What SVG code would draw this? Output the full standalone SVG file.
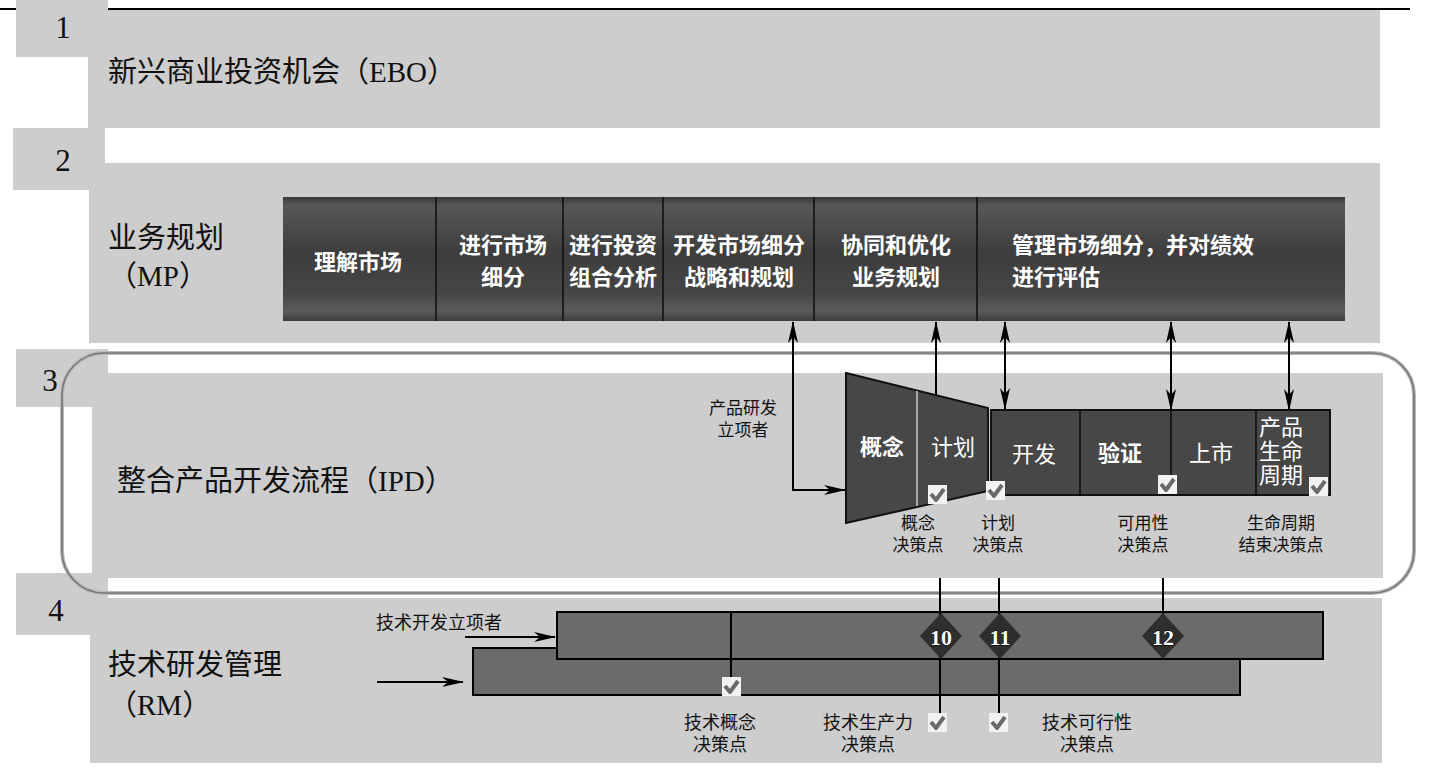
<svg xmlns="http://www.w3.org/2000/svg" width="1429" height="783" viewBox="0 0 1429 783">
<defs>
<linearGradient id="mpg" x1="0" y1="0" x2="0" y2="1">
<stop offset="0" stop-color="#3a3a3a"/>
<stop offset="0.07" stop-color="#575757"/>
<stop offset="0.45" stop-color="#3d3d3d"/>
<stop offset="0.78" stop-color="#464646"/>
<stop offset="0.92" stop-color="#5b5b5b"/>
<stop offset="1" stop-color="#3c3c3c"/>
</linearGradient>
<marker id="ah" viewBox="0 0 22 10" refX="21" refY="5" markerWidth="22" markerHeight="10" markerUnits="userSpaceOnUse" orient="auto-start-reverse">
<path d="M0,0 L22,5 L0,10 L6,5 z" fill="#000"/>
</marker>
<symbol id="ck" viewBox="0 0 19 19">
<rect width="19" height="19" fill="#f2f2f2"/>
<path d="M3,9 L8,15 L16,4" fill="none" stroke="#6a6a6a" stroke-width="4" stroke-linejoin="round"/>
</symbol>
</defs>
<style>
.band{fill:#cdcdcd}
.num{font-family:"Liberation Serif","Noto Sans CJK SC",serif;font-size:31px;fill:#111;text-anchor:middle}
.title{font-family:"Liberation Serif","Noto Sans CJK SC",serif;font-size:29px;fill:#111}
.mpt{font-family:"Liberation Serif","Noto Sans CJK SC",sans-serif;font-size:22px;font-weight:bold;fill:#fff;text-anchor:middle}
.ipt{font-family:"Noto Sans CJK SC",sans-serif;font-size:22px;fill:#fff;text-anchor:middle}
.lbl{font-family:"Noto Sans CJK SC",sans-serif;font-size:17px;fill:#111;text-anchor:middle}
.st{text-anchor:start}
.rml{font-size:18px}
.dark{fill:#474747;stroke:#111;stroke-width:2}
.rm{fill:#6b6b6b;stroke:#000;stroke-width:2}
.div{stroke:#111;stroke-width:1.6}
.con{fill:none;stroke:#000;stroke-width:2}
.dia{fill:#2e2e2e}
.dnum{font-family:"Liberation Serif",serif;font-weight:bold;font-size:22px;fill:#fff;stroke:#000;stroke-width:0.8;paint-order:stroke;text-anchor:middle}
</style>
<rect width="1429" height="783" fill="#fff"/>
<line x1="0" y1="9" x2="1410" y2="9" stroke="#000" stroke-width="2"/>

<g id="band-ebo">
<rect class="band" x="88" y="10" width="1292" height="118"/>
<rect class="band" x="16" y="0" width="92" height="57"/>
<text class="num" x="63" y="38">1</text>
<text class="title" x="108" y="82">新兴商业投资机会（EBO）</text>
</g>

<g id="band-mp">
<rect class="band" x="89" y="163" width="1291" height="180"/>
<rect class="band" x="13" y="128" width="92" height="62"/>
<text class="num" x="63" y="171">2</text>
<text class="title" x="108" y="248" font-size="30">业务规划</text>
<text class="title" x="108" y="286" font-size="30">（MP）</text>
</g>

<g id="band-ipd">
<rect class="band" x="92" y="373" width="1291" height="205"/>
<rect class="band" x="16" y="349" width="92" height="58"/>
<text class="num" x="50" y="391">3</text>
<text class="title" x="117" y="491">整合产品开发流程（IPD）</text>
</g>

<g id="band-rm">
<rect class="band" x="90" y="598" width="1292" height="165"/>
<rect class="band" x="16" y="573" width="92" height="62"/>
<text class="num" x="56" y="621">4</text>
<text class="title" x="108" y="675" font-size="30">技术研发管理</text>
<text class="title" x="108" y="715" font-size="30">（RM）</text>
</g>

<g id="ipd-frame">
<rect x="62" y="353" width="1352" height="240" rx="42" fill="none" stroke="#b8b8b8" stroke-width="4"/>
<rect x="62" y="353" width="1352" height="240" rx="42" fill="none" stroke="#777" stroke-width="1.6"/>
</g>

<g id="mp-bar">
<rect x="283" y="197" width="1062" height="124" fill="url(#mpg)"/>
<line class="div" x1="436" y1="197" x2="436" y2="321"/>
<line class="div" x1="563" y1="197" x2="563" y2="321"/>
<line class="div" x1="663" y1="197" x2="663" y2="321"/>
<line class="div" x1="814" y1="197" x2="814" y2="321"/>
<line class="div" x1="977" y1="197" x2="977" y2="321"/>
<text class="mpt" x="358" y="270">理解市场</text>
<text class="mpt" x="503" y="253">进行市场</text>
<text class="mpt" x="503" y="285">细分</text>
<text class="mpt" x="613" y="253">进行投资</text>
<text class="mpt" x="613" y="285">组合分析</text>
<text class="mpt" x="739" y="253">开发市场细分</text>
<text class="mpt" x="739" y="285">战略和规划</text>
<text class="mpt" x="896" y="253">协同和优化</text>
<text class="mpt" x="896" y="285">业务规划</text>
<text class="mpt st" x="1012" y="253">管理市场细分，并对绩效</text>
<text class="mpt st" x="1012" y="285">进行评估</text>
</g>

<g id="ipd-phases">
<polygon class="dark" points="846,373 988,408 988,491 846,523"/>
<line x1="917" y1="391" x2="917" y2="506" stroke="#aaa" stroke-width="2"/>
<rect class="dark" x="991" y="410" width="339" height="85" stroke-width="2.5"/>
<line class="div" x1="1080" y1="410" x2="1080" y2="495"/>
<line class="div" x1="1171" y1="410" x2="1171" y2="495"/>
<line class="div" x1="1256" y1="410" x2="1256" y2="495"/>
<text class="ipt" x="882" y="455" font-weight="bold">概念</text>
<text class="ipt" x="953" y="455">计划</text>
<text class="ipt" x="1034" y="462">开发</text>
<text class="ipt" x="1120" y="461" font-weight="bold">验证</text>
<text class="ipt" x="1211" y="461">上市</text>
<text class="ipt st" x="1259" y="435">产品</text>
<text class="ipt st" x="1259" y="459">生命</text>
<text class="ipt st" x="1259" y="483">周期</text>
</g>

<g id="ipd-labels">
<text class="lbl" x="743" y="414">产品研发</text>
<text class="lbl" x="743" y="436">立项者</text>
<text class="lbl" x="918" y="529">概念</text>
<text class="lbl" x="918" y="551">决策点</text>
<text class="lbl" x="998" y="529">计划</text>
<text class="lbl" x="998" y="551">决策点</text>
<text class="lbl" x="1143" y="529">可用性</text>
<text class="lbl" x="1143" y="551">决策点</text>
<text class="lbl" x="1281" y="529">生命周期</text>
<text class="lbl" x="1281" y="551">结束决策点</text>
</g>

<g id="rm-bars">
<rect class="rm" x="473" y="648" width="767" height="47"/>
<rect class="rm" x="557" y="612" width="766" height="47"/>
<text class="lbl rml st" x="376" y="629">技术开发立项者</text>
<text class="lbl rml" x="720" y="729">技术概念</text>
<text class="lbl rml" x="720" y="751">决策点</text>
<text class="lbl rml" x="868" y="729">技术生产力</text>
<text class="lbl rml" x="868" y="751">决策点</text>
<text class="lbl rml" x="1087" y="729">技术可行性</text>
<text class="lbl rml" x="1087" y="751">决策点</text>
</g>

<g id="connectors">
<path class="con" d="M793,322 V490 H845" marker-start="url(#ah)" marker-end="url(#ah)"/>
<path class="con" d="M936,322 V395" marker-start="url(#ah)"/>
<path class="con" d="M1005,322 V409" marker-start="url(#ah)" marker-end="url(#ah)"/>
<path class="con" d="M1171,322 V410" marker-start="url(#ah)" marker-end="url(#ah)"/>
<path class="con" d="M1289,322 V410" marker-start="url(#ah)" marker-end="url(#ah)"/>
<path class="con" d="M465,637 H555" marker-end="url(#ah)"/>
<path class="con" d="M377,682 H463" marker-end="url(#ah)"/>
<path class="con" d="M731,612 V678"/>
<path class="con" d="M940,578 V714"/>
<path class="con" d="M999,578 V714"/>
<path class="con" d="M1163,578 V636"/>
</g>

<g id="decision-10">
<polygon class="dia" points="941,613 962,636 941,659 920,636"/>
<text class="dnum" x="941" y="645">10</text>
</g>
<g id="decision-11">
<polygon class="dia" points="1000,613 1021,636 1000,659 979,636"/>
<text class="dnum" x="1000" y="645">11</text>
</g>
<g id="decision-12">
<polygon class="dia" points="1163,613 1184,636 1163,659 1142,636"/>
<text class="dnum" x="1163" y="645">12</text>
</g>

<g id="checks">
<use href="#ck" x="928" y="485" width="19" height="19"/>
<use href="#ck" x="986" y="481" width="19" height="19"/>
<use href="#ck" x="1158" y="475" width="19" height="19"/>
<use href="#ck" x="1309" y="477" width="19" height="19"/>
<use href="#ck" x="722" y="677" width="19" height="19"/>
<use href="#ck" x="928" y="713" width="19" height="19"/>
<use href="#ck" x="989" y="713" width="19" height="19"/>
</g>
</svg>
